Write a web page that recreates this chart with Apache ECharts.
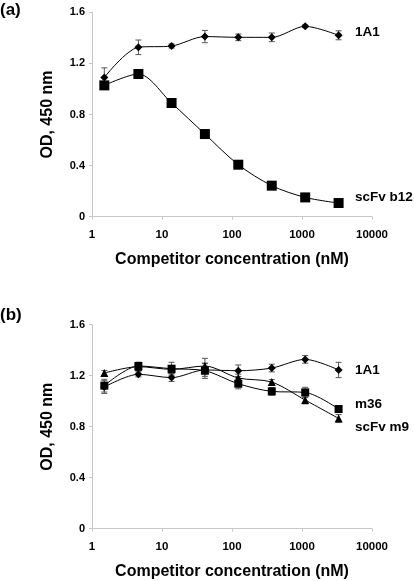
<!DOCTYPE html>
<html><head><meta charset="utf-8">
<script src="https://cdn.jsdelivr.net/npm/echarts@6/dist/echarts.min.js"></script>
<style>html,body{margin:0;padding:0;background:#fff}#c{width:414px;height:581px}</style>
</head><body><div id="c"></div>
<script>
const conc = [1.5, 4.6, 13.7, 41, 123, 370, 1111, 3333];
const xTicks = ['1', '10', '100', '1000', '10000'];
const yTicks = ['0', '0.4', '0.8', '1.2', '1.6'];
const panelLabels = ['(a)', '(b)'];
const yTitle = 'OD, 450 nm';
const xTitle = 'Competitor concentration (nM)';

// Panel (a)
const a_1A1 = [1.09, 1.326, 1.336, 1.41, 1.404, 1.404, 1.49, 1.42];
const a_1A1_err = [0.075, 0.057, 0.016, 0.048, 0.026, 0.034, 0.01, 0.035];
const a_b12 = [1.028, 1.117, 0.89, 0.647, 0.407, 0.243, 0.151, 0.107];
const a_b12_err = [0.03, 0.02, 0.015, 0.015, 0.01, 0.01, 0.01, 0.01];

// Panel (b)
const b_1A1 = [1.111, 1.211, 1.185, 1.245, 1.239, 1.26, 1.328, 1.245];
const b_1A1_err = [0.05, 0.02, 0.03, 0.05, 0.045, 0.03, 0.03, 0.06];
const b_m36 = [1.122, 1.276, 1.255, 1.239, 1.137, 1.077, 1.069, 0.939];
const b_m36_err = [0.05, 0.03, 0.05, 0.06, 0.04, 0.03, 0.04, 0.02];
const b_m9 = [1.221, 1.271, 1.25, 1.276, 1.182, 1.15, 1.009, 0.865];
const b_m9_err = [0.02, 0.03, 0.03, 0.06, 0.03, 0.02, 0.03, 0.03];

const names = { a: ['1A1', 'scFv b12'], b: ['1A1', 'm36', 'scFv m9'] };

const FONT = 'Liberation Sans, Arial, sans-serif';
const grids = [
  { left: 92, right: 42, top: 12.3, bottom: 364.3 },
  { left: 92, right: 42, top: 324.7, bottom: 52.3 }
];

function xAxis(i) {
  return {
    gridIndex: i, type: 'log', logBase: 10, min: 1, max: 10000,
    name: xTitle, nameLocation: 'middle', nameGap: 35,
    nameTextStyle: { fontFamily: FONT, fontWeight: 'bold', fontSize: 16, color: '#000' },
    axisLine: { lineStyle: { color: '#c8c8c8', width: 1 } },
    axisTick: { show: true, length: 3, lineStyle: { color: '#c8c8c8' } },
    splitLine: { show: false },
    axisLabel: { fontFamily: FONT, fontWeight: 'bold', fontSize: 11.5, color: '#000', margin: 12,
      formatter: v => xTicks[Math.round(Math.log10(v))] }
  };
}
function yAxis(i) {
  return {
    gridIndex: i, type: 'value', min: 0, max: 1.6, interval: 0.4,
    name: yTitle, nameLocation: 'middle', nameGap: 36, nameRotate: 90,
    nameTextStyle: { fontFamily: FONT, fontWeight: 'bold', fontSize: 16, color: '#000' },
    axisLine: { show: true, lineStyle: { color: '#c8c8c8', width: 1 } },
    axisTick: { show: true, length: 3, lineStyle: { color: '#c8c8c8' } },
    splitLine: { show: false },
    axisLabel: { fontFamily: FONT, fontWeight: 'bold', fontSize: 11, color: '#000', margin: 7,
      formatter: v => yTicks[Math.round(v / 0.4)] }
  };
}

function lineSeries(i, vals, symbol, size) {
  return {
    type: 'line', xAxisIndex: i, yAxisIndex: i, smooth: 0.3,
    data: conc.map((c, k) => [c, vals[k]]),
    symbol: symbol, symbolSize: size, showAllSymbol: true,
    itemStyle: { color: '#000' },
    lineStyle: { color: '#000', width: 1 },
    z: 3
  };
}
function errSeries(i, vals, errs) {
  return {
    type: 'custom', xAxisIndex: i, yAxisIndex: i, z: 2,
    data: conc.map((c, k) => [c, vals[k] - errs[k], vals[k] + errs[k]]),
    renderItem: function (params, api) {
      const lo = api.coord([api.value(0), api.value(1)]);
      const hi = api.coord([api.value(0), api.value(2)]);
      const w = 3;
      const st = { stroke: '#555', lineWidth: 1 };
      return { type: 'group', children: [
        { type: 'line', shape: { x1: lo[0], y1: lo[1], x2: hi[0], y2: hi[1] }, style: st },
        { type: 'line', shape: { x1: lo[0] - w, y1: lo[1], x2: lo[0] + w, y2: lo[1] }, style: st },
        { type: 'line', shape: { x1: hi[0] - w, y1: hi[1], x2: hi[0] + w, y2: hi[1] }, style: st }
      ] };
    }
  };
}

const chart = echarts.init(document.getElementById('c'), null, { renderer: 'canvas' });
const txt = (x, y, s, size) => ({ type: 'text', left: x, top: y,
  style: { text: s, font: 'bold ' + size + 'px ' + FONT, fill: '#000' } });

chart.setOption({
  animation: false,
  backgroundColor: '#fff',
  grid: grids,
  xAxis: [xAxis(0), xAxis(1)],
  yAxis: [yAxis(0), yAxis(1)],
  series: [
    errSeries(0, a_1A1, a_1A1_err),
    errSeries(0, a_b12, a_b12_err),
    lineSeries(0, a_1A1, 'diamond', 8),
    lineSeries(0, a_b12, 'rect', 10),
    errSeries(1, b_1A1, b_1A1_err),
    errSeries(1, b_m36, b_m36_err),
    errSeries(1, b_m9, b_m9_err),
    lineSeries(1, b_1A1, 'diamond', 8),
    lineSeries(1, b_m36, 'rect', 8),
    lineSeries(1, b_m9, 'triangle', 8)
  ],
  graphic: [
    txt(0, 2, panelLabels[0], 17),
    txt(0, 307, panelLabels[1], 17),
    txt(355, 25, names.a[0], 13.5),
    txt(355, 190, names.a[1], 13.5),
    txt(355, 363, names.b[0], 13.5),
    txt(355, 397, names.b[1], 13.5),
    txt(355, 420, names.b[2], 13.5)
  ]
});
</script></body></html>
